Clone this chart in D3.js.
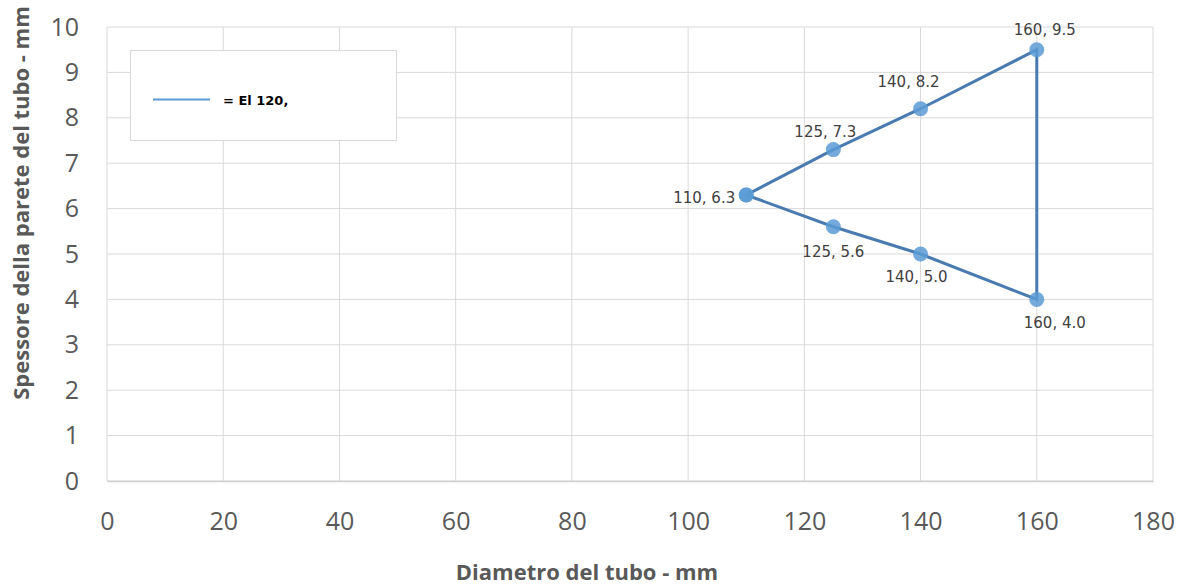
<!DOCTYPE html>
<html><head><meta charset="utf-8">
<script src="https://cdn.jsdelivr.net/npm/d3@7"></script>
<style>body{margin:0;background:#fff}svg{display:block}</style>
</head><body>
<script>
const diam = [110, 125, 140, 160, 160, 140, 125, 110];
const thick = [6.3, 7.3, 8.2, 9.5, 4.0, 5.0, 5.6, 6.3];
const xTicks = [0,20,40,60,80,100,120,140,160,180];
const yTicks = [0,1,2,3,4,5,6,7,8,9,10];
const seriesName = "= El 120,";
const xTitle = "Diametro del tubo - mm";
const yTitle = "Spessore della parete del tubo - mm";

const W = 1189, H = 586;
const m = {l:107, r:W-1153, t:27, b:H-481};
const svg = d3.select("body").append("svg").attr("width", W).attr("height", H);
const x = d3.scaleLinear().domain([0,180]).range([m.l, W-m.r]);
const y = d3.scaleLinear().domain([0,10]).range([H-m.b, m.t]);
const font = "Open Sans, sans-serif";
const lblFont = "DejaVu Sans, sans-serif";

// label offsets (layout) per point index: [dx, dy, anchor]
const lblOffset = [[-11, 8, "end"], [-8, -13, "middle"], [-12, -22, "middle"], [8, -15, "middle"],
                   [18, 29, "middle"], [-4, 28, "middle"], [0, 30, "middle"], null];

// gridlines
svg.append("g").selectAll("line").data(xTicks).join("line")
  .attr("x1", d=>x(d)).attr("x2", d=>x(d)).attr("y1", y(0)).attr("y2", y(10))
  .attr("stroke", "#d9d9d9").attr("stroke-width", 1);
svg.append("g").selectAll("line").data(yTicks).join("line")
  .attr("x1", x(0)).attr("x2", x(180)).attr("y1", d=>y(d)).attr("y2", d=>y(d))
  .attr("stroke", "#d9d9d9").attr("stroke-width", 1);

// axes
const xAxis = svg.append("g").attr("transform", `translate(0,${y(0)})`)
  .call(d3.axisBottom(x).tickValues(xTicks).tickSize(0).tickPadding(31));
xAxis.select(".domain").attr("stroke", "#d0d0d0").attr("stroke-width", 1.5);
xAxis.selectAll("text").attr("font-family", font).attr("font-size", 25).attr("fill", "#595959");
const yAxis = svg.append("g").attr("transform", `translate(${x(0)},0)`)
  .call(d3.axisLeft(y).tickValues(yTicks).tickSize(0).tickPadding(28));
yAxis.select(".domain").remove();
yAxis.selectAll("text").attr("font-family", font).attr("font-size", 25).attr("fill", "#595959");

// titles
svg.append("text").attr("x", 587).attr("y", 580).attr("text-anchor", "middle")
  .attr("font-family", font).attr("font-weight", "bold").attr("font-size", 22).attr("fill", "#595959")
  .text(xTitle);
svg.append("text").attr("transform", "translate(29,203) rotate(-90)").attr("text-anchor", "middle")
  .attr("font-family", font).attr("font-weight", "bold").attr("font-size", 22).attr("fill", "#595959")
  .text(yTitle);

// line
const pts = diam.map((d,i)=>({x:d, y:thick[i], i}));
svg.append("path").datum(pts)
  .attr("d", d3.line().x(d=>x(d.x)).y(d=>y(d.y)))
  .attr("fill", "none").attr("stroke", "#4a7bb0").attr("stroke-width", 3);
svg.append("g").selectAll("circle").data(pts).join("circle")
  .attr("cx", d=>x(d.x)).attr("cy", d=>y(d.y)).attr("r", 7.5)
  .attr("fill", "#5b9bd5").attr("fill-opacity", 0.85);

// labels
svg.append("g").attr("font-family", lblFont).attr("font-size", 15).attr("fill", "#404040")
  .selectAll("text").data(pts.filter(d=>lblOffset[d.i])).join("text")
  .attr("x", d=>x(d.x) + lblOffset[d.i][0])
  .attr("y", d=>y(d.y) + lblOffset[d.i][1])
  .attr("text-anchor", d=>lblOffset[d.i][2])
  .text(d=>`${d.x}, ${d.y.toFixed(1)}`);

// legend
svg.append("rect").attr("x", 130.5).attr("y", 50.5).attr("width", 266).attr("height", 90)
  .attr("fill", "#fff").attr("stroke", "#d9d9d9");
svg.append("line").attr("x1", 153).attr("x2", 210).attr("y1", 99.5).attr("y2", 99.5)
  .attr("stroke", "#5b9bd5").attr("stroke-width", 2);
svg.append("text").attr("x", 223).attr("y", 105).attr("font-family", lblFont).attr("font-weight", "bold")
  .attr("font-size", 13).attr("fill", "#000").text(seriesName);
</script>
</body></html>
